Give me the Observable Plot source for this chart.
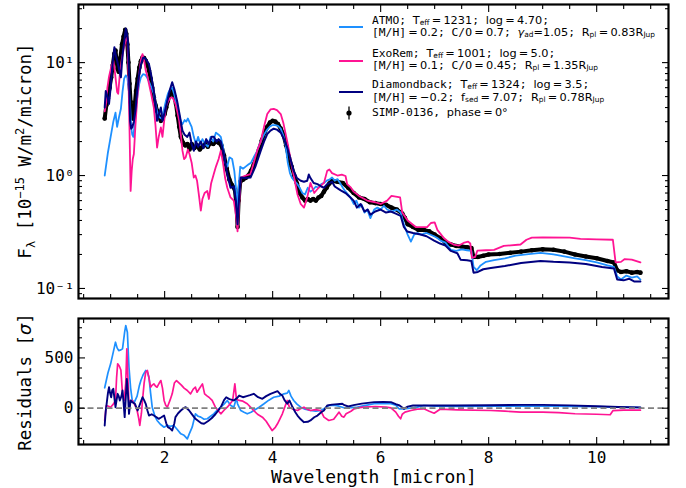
<!DOCTYPE html>
<html><head><meta charset="utf-8">
<script src="https://cdn.jsdelivr.net/npm/d3@7"></script>
<script src="https://cdn.jsdelivr.net/npm/@observablehq/plot@0.6"></script>
<style>
html,body{margin:0;padding:0;background:#fff;}
#wrap{position:relative;width:686px;height:488px;overflow:hidden;font-family:'DejaVu Sans Mono',monospace;background:#fff;}
#wrap svg{display:block;}
.row{position:absolute;left:372px;white-space:nowrap;font-size:11.3px;line-height:12.6px;color:#000;}
.m{font-family:'DejaVu Sans',sans-serif;}
.row sub{font-size:0.66em;vertical-align:-0.2em;line-height:0;}
.sw{position:absolute;left:339px;width:24px;height:0;border-top:2px solid;}
</style></head>
<body>
<div id="wrap"></div>
<script>
// ---------- data (wavelength in micron, flux in 1e-15 W/m2/micron) ----------
const observed = [[0.89,3.2],[0.92,4.2],[0.95,4.8],[0.98,6.0],[1.01,7.4],[1.04,9.5],[1.07,12.0],[1.09,12.8],[1.11,10.4],[1.13,8.8],[1.15,8.3],[1.18,11.0],[1.21,14.5],[1.24,17.0],[1.27,19.5],[1.29,18.0],[1.31,14.5],[1.33,10.0],[1.35,6.5],[1.37,4.5],[1.39,3.5],[1.41,3.2],[1.43,3.6],[1.45,4.4],[1.47,5.6],[1.50,7.2],[1.53,9.0],[1.56,10.3],[1.59,11.1],[1.62,11.0],[1.65,10.4],[1.68,9.6],[1.71,8.5],[1.74,7.2],[1.77,6.0],[1.80,4.9],[1.83,4.2],[1.86,3.75],[1.90,3.3],[1.93,3.05],[1.96,3.2],[2.00,3.5],[2.03,4.0],[2.06,4.6],[2.09,5.1],[2.12,5.5],[2.15,5.6],[2.18,5.0],[2.21,4.3],[2.24,3.4],[2.27,2.7],[2.30,2.2],[2.34,1.95],[2.38,1.85],[2.42,1.9],[2.46,1.7],[2.50,1.9],[2.55,1.75],[2.60,1.85],[2.65,1.7],[2.70,1.8],[2.75,1.9],[2.80,1.8],[2.85,1.95],[2.90,1.9],[2.95,2.0],[3.00,1.95],[3.05,1.85],[3.10,1.5],[3.15,1.15],[3.20,0.92],[3.25,0.82],[3.30,0.75],[3.33,0.55],[3.35,0.35],[3.37,0.6],[3.40,0.88],[3.45,0.92],[3.50,0.95],[3.55,1.0],[3.60,1.1],[3.65,1.25],[3.70,1.45],[3.75,1.7],[3.80,2.05],[3.85,2.4],[3.90,2.7],[3.95,2.95],[4.00,3.05],[4.05,3.0],[4.10,2.85],[4.15,2.6],[4.20,2.3],[4.25,1.85],[4.30,1.45],[4.35,1.2],[4.40,1.0],[4.45,0.85],[4.50,0.7],[4.55,0.64],[4.60,0.6],[4.65,0.62],[4.70,0.6],[4.75,0.62],[4.80,0.6],[4.85,0.64],[4.90,0.66],[4.95,0.72],[5.00,0.78],[5.05,0.85],[5.10,0.9],[5.20,0.88],[5.30,0.86],[5.40,0.78],[5.50,0.7],[5.60,0.64],[5.70,0.62],[5.80,0.58],[5.90,0.57],[6.00,0.56],[6.10,0.55],[6.20,0.52],[6.30,0.5],[6.40,0.46],[6.45,0.42],[6.50,0.37],[6.60,0.35],[6.70,0.33],[6.80,0.33],[6.90,0.32],[7.00,0.30],[7.10,0.28],[7.20,0.255],[7.30,0.245],[7.40,0.238],[7.50,0.235],[7.60,0.232],[7.68,0.228],[7.72,0.19],[7.80,0.19],[7.90,0.195],[8.00,0.2],[8.20,0.202],[8.40,0.207],[8.60,0.212],[8.80,0.218],[9.00,0.222],[9.20,0.22],[9.40,0.212],[9.60,0.2],[9.80,0.192],[10.0,0.185],[10.2,0.175],[10.32,0.17],[10.38,0.145],[10.45,0.14],[10.55,0.142],[10.65,0.138],[10.75,0.14],[10.81,0.138]];

const atmo = [[0.89,1.0],[0.95,1.6],[1.00,2.2],[1.05,3.0],[1.09,3.6],[1.12,2.7],[1.15,3.2],[1.19,3.9],[1.22,5.5],[1.25,7.2],[1.28,7.7],[1.31,7.4],[1.34,5.5],[1.36,4.2],[1.38,2.7],[1.40,2.3],[1.42,2.2],[1.45,3.0],[1.49,4.8],[1.53,6.5],[1.56,7.4],[1.60,7.9],[1.64,7.8],[1.68,7.3],[1.71,6.8],[1.75,6.1],[1.80,5.3],[1.83,4.4],[1.86,3.7],[1.90,3.3],[1.94,3.2],[1.98,3.7],[2.02,4.5],[2.06,5.3],[2.10,5.8],[2.14,6.0],[2.18,5.2],[2.22,4.3],[2.26,3.6],[2.30,3.0],[2.33,2.85],[2.37,3.1],[2.40,3.0],[2.43,3.2],[2.47,2.9],[2.50,2.7],[2.54,2.2],[2.58,1.9],[2.62,2.2],[2.66,1.9],[2.70,2.1],[2.75,1.9],[2.80,1.8],[2.85,2.2],[2.90,2.0],[2.95,2.4],[3.00,2.3],[3.04,2.2],[3.08,1.8],[3.12,1.3],[3.16,1.2],[3.20,1.45],[3.25,1.4],[3.29,1.1],[3.33,0.7],[3.35,0.45],[3.37,0.8],[3.40,1.2],[3.45,1.15],[3.50,1.2],[3.55,1.25],[3.60,1.3],[3.65,1.45],[3.70,1.6],[3.75,1.85],[3.80,2.1],[3.85,2.35],[3.90,2.55],[3.95,2.72],[4.00,2.8],[4.05,2.8],[4.10,2.75],[4.15,2.6],[4.20,2.25],[4.24,1.85],[4.28,1.3],[4.32,1.05],[4.36,0.95],[4.40,0.9],[4.45,0.85],[4.50,0.78],[4.55,0.7],[4.60,0.68],[4.65,0.78],[4.70,0.72],[4.75,0.75],[4.80,0.8],[4.85,0.78],[4.90,0.84],[4.95,0.86],[5.00,0.9],[5.05,0.92],[5.10,0.96],[5.15,0.9],[5.20,0.93],[5.26,0.84],[5.30,0.78],[5.35,0.72],[5.44,0.64],[5.50,0.56],[5.55,0.6],[5.60,0.52],[5.65,0.55],[5.70,0.47],[5.75,0.5],[5.81,0.42],[5.88,0.5],[5.94,0.52],[6.00,0.5],[6.06,0.54],[6.12,0.5],[6.20,0.48],[6.30,0.5],[6.37,0.47],[6.43,0.37],[6.50,0.3],[6.56,0.26],[6.62,0.3],[6.68,0.31],[6.75,0.3],[6.85,0.31],[6.99,0.29],[7.05,0.28],[7.11,0.265],[7.20,0.255],[7.30,0.22],[7.40,0.215],[7.50,0.222],[7.60,0.218],[7.68,0.215],[7.72,0.155],[7.78,0.145],[7.85,0.16],[7.95,0.172],[8.10,0.178],[8.30,0.185],[8.50,0.195],[8.70,0.2],[8.96,0.207],[9.20,0.2],[9.40,0.192],[9.60,0.185],[9.80,0.178],[10.0,0.17],[10.2,0.16],[10.32,0.155],[10.38,0.128],[10.45,0.12],[10.55,0.13],[10.65,0.125],[10.75,0.128],[10.81,0.12]];

const exorem = [[0.89,3.7],[0.92,4.5],[0.94,6.0],[0.97,7.5],[1.01,9.1],[1.05,10.4],[1.07,9.0],[1.09,7.4],[1.12,5.5],[1.14,5.3],[1.17,7.9],[1.21,11.0],[1.25,13.7],[1.28,16.0],[1.31,16.8],[1.33,7.4],[1.35,2.5],[1.37,0.73],[1.39,1.1],[1.41,1.4],[1.43,1.55],[1.46,2.8],[1.49,4.6],[1.53,8.0],[1.56,10.5],[1.59,11.9],[1.62,10.5],[1.65,8.5],[1.68,7.6],[1.71,6.5],[1.75,5.3],[1.80,4.0],[1.83,2.8],[1.86,1.77],[1.89,2.2],[1.93,2.67],[1.96,2.2],[1.99,3.0],[2.02,4.0],[2.06,4.5],[2.11,4.9],[2.15,4.9],[2.20,4.3],[2.24,3.6],[2.27,3.05],[2.30,2.3],[2.33,1.66],[2.36,1.4],[2.39,1.45],[2.43,1.7],[2.46,1.55],[2.50,1.3],[2.54,0.96],[2.57,1.0],[2.60,0.9],[2.63,0.7],[2.67,0.49],[2.70,0.62],[2.74,0.7],[2.79,0.73],[2.82,0.62],[2.86,0.85],[2.91,1.03],[2.95,1.2],[3.00,1.4],[3.04,1.66],[3.08,1.3],[3.12,0.95],[3.16,0.78],[3.22,0.64],[3.28,0.6],[3.32,0.45],[3.35,0.32],[3.38,0.55],[3.41,0.96],[3.50,1.0],[3.59,1.03],[3.65,1.3],[3.72,1.7],[3.78,2.0],[3.84,2.7],[3.90,3.5],[3.96,3.85],[4.02,3.9],[4.08,3.8],[4.15,3.5],[4.20,2.9],[4.27,2.0],[4.32,1.5],[4.36,1.18],[4.41,0.9],[4.46,0.68],[4.52,0.56],[4.58,0.52],[4.64,0.64],[4.70,0.86],[4.77,0.7],[4.85,0.78],[4.95,0.86],[5.01,1.1],[5.05,1.13],[5.10,1.05],[5.20,1.0],[5.28,1.02],[5.35,0.99],[5.38,0.84],[5.45,0.78],[5.50,0.72],[5.60,0.66],[5.75,0.6],[5.90,0.58],[6.00,0.56],[6.12,0.6],[6.20,0.66],[6.28,0.65],[6.36,0.64],[6.40,0.47],[6.50,0.4],[6.65,0.35],[6.80,0.35],[6.86,0.35],[6.93,0.38],[7.00,0.385],[7.05,0.33],[7.12,0.3],[7.17,0.28],[7.25,0.26],[7.35,0.245],[7.45,0.24],[7.55,0.255],[7.62,0.26],[7.66,0.25],[7.69,0.187],[7.75,0.19],[7.79,0.216],[7.95,0.218],[8.10,0.22],[8.28,0.238],[8.59,0.245],[8.70,0.27],[8.80,0.282],[9.00,0.283],[9.50,0.282],[9.70,0.275],[10.0,0.272],[10.30,0.27],[10.35,0.17],[10.45,0.172],[10.52,0.182],[10.65,0.18],[10.81,0.17]];

const diamondback = [[0.89,4.0],[0.91,5.6],[0.94,5.0],[0.97,4.3],[1.00,6.0],[1.03,9.1],[1.07,13.7],[1.09,12.0],[1.12,10.4],[1.15,9.0],[1.19,7.4],[1.21,10.0],[1.23,12.8],[1.26,16.5],[1.28,20.0],[1.30,18.0],[1.32,15.6],[1.34,8.0],[1.36,3.05],[1.38,2.6],[1.40,2.67],[1.43,3.0],[1.46,3.75],[1.49,5.5],[1.52,7.4],[1.56,9.5],[1.60,11.0],[1.62,11.1],[1.66,10.6],[1.71,9.7],[1.75,7.8],[1.80,5.6],[1.83,4.3],[1.86,3.05],[1.90,3.6],[1.93,4.0],[1.96,3.05],[2.00,3.6],[2.05,4.6],[2.10,5.8],[2.14,6.7],[2.18,5.8],[2.23,4.6],[2.28,3.4],[2.33,2.5],[2.37,2.3],[2.42,2.2],[2.46,2.4],[2.50,1.9],[2.54,1.66],[2.58,2.0],[2.62,1.8],[2.67,2.0],[2.72,1.75],[2.77,2.1],[2.82,1.9],[2.87,2.2],[2.91,2.2],[2.96,2.0],[3.00,2.1],[3.04,2.0],[3.09,1.6],[3.16,1.03],[3.22,0.78],[3.28,0.8],[3.32,0.6],[3.35,0.37],[3.38,0.65],[3.41,0.96],[3.50,0.95],[3.59,0.96],[3.68,1.2],[3.78,1.66],[3.84,2.0],[3.90,2.33],[3.96,2.5],[4.02,2.6],[4.08,2.55],[4.15,2.4],[4.21,2.1],[4.27,1.77],[4.33,1.4],[4.39,1.1],[4.45,0.95],[4.52,0.9],[4.58,0.88],[4.64,0.9],[4.67,1.02],[4.70,0.95],[4.76,0.86],[4.83,0.84],[4.90,0.8],[4.95,0.78],[5.01,0.84],[5.10,0.88],[5.15,0.8],[5.26,0.74],[5.35,0.7],[5.44,0.64],[5.50,0.6],[5.56,0.52],[5.63,0.56],[5.70,0.48],[5.76,0.5],[5.81,0.45],[5.90,0.48],[6.00,0.5],[6.10,0.47],[6.19,0.48],[6.28,0.46],[6.37,0.44],[6.43,0.35],[6.49,0.32],[6.60,0.31],[6.74,0.3],[6.85,0.29],[6.99,0.265],[7.10,0.25],[7.20,0.24],[7.30,0.215],[7.42,0.205],[7.48,0.18],[7.60,0.178],[7.68,0.175],[7.72,0.138],[7.80,0.14],[7.90,0.148],[8.04,0.152],[8.30,0.158],[8.60,0.168],[8.96,0.175],[9.20,0.172],[9.50,0.17],[9.80,0.165],[10.1,0.155],[10.32,0.15],[10.38,0.12],[10.50,0.118],[10.60,0.122],[10.70,0.115],[10.81,0.115]];

// residuals in sigma
const resAtmo = [[0.89,203],[0.95,350],[1.00,441],[1.05,560],[1.09,656],[1.12,600],[1.15,573],[1.19,580],[1.22,590],[1.26,760],[1.28,822],[1.31,755],[1.34,407],[1.37,200],[1.40,77],[1.44,60],[1.49,120],[1.53,220],[1.56,275],[1.60,330],[1.65,375],[1.68,360],[1.71,308],[1.74,150],[1.77,10],[1.82,-80],[1.86,-122],[1.92,-160],[1.99,-189],[2.05,-170],[2.10,-180],[2.17,-172],[2.23,-210],[2.30,-255],[2.36,-270],[2.42,-305],[2.46,-250],[2.51,-189],[2.57,-56],[2.62,-80],[2.67,-89],[2.73,-110],[2.79,-105],[2.85,-80],[2.91,-56],[2.97,-20],[3.04,10],[3.10,40],[3.16,77],[3.22,30],[3.28,10],[3.33,100],[3.35,44],[3.41,-23],[3.47,-40],[3.53,-56],[3.60,-40],[3.65,-23],[3.75,10],[3.84,44],[3.93,80],[4.02,109],[4.12,120],[4.21,143],[4.27,150],[4.30,176],[4.34,120],[4.39,77],[4.45,40],[4.52,10],[4.60,-10],[4.70,-23],[4.80,-30],[4.89,-23],[4.95,-6],[5.04,27],[5.13,30],[5.23,20],[5.32,4],[5.45,5],[5.57,10],[5.70,25],[5.88,44],[6.05,45],[6.19,44],[6.28,30],[6.34,-6],[6.43,-6],[6.55,0],[6.68,10],[6.80,27],[7.0,20],[7.42,17],[8.0,20],[8.6,20],[9.0,22],[9.5,18],[10.0,15],[10.4,10],[10.81,5]];

const resExorem = [[0.89,-122],[0.92,27],[0.96,20],[1.00,10],[1.05,40],[1.09,77],[1.11,300],[1.13,441],[1.16,420],[1.19,380],[1.22,143],[1.25,77],[1.28,250],[1.30,590],[1.32,300],[1.34,44],[1.37,60],[1.40,77],[1.45,30],[1.49,-23],[1.52,-100],[1.54,-172],[1.57,-50],[1.59,77],[1.62,250],[1.65,358],[1.68,375],[1.71,300],[1.74,209],[1.77,230],[1.80,242],[1.83,220],[1.86,209],[1.90,250],[1.93,275],[1.96,200],[1.99,77],[2.02,30],[2.05,10],[2.10,80],[2.14,143],[2.18,250],[2.22,275],[2.27,250],[2.31,230],[2.36,200],[2.42,176],[2.48,143],[2.53,190],[2.57,209],[2.60,159],[2.65,200],[2.70,242],[2.74,143],[2.79,120],[2.82,109],[2.88,77],[2.94,10],[3.0,-30],[3.04,-56],[3.10,-20],[3.16,10],[3.22,50],[3.26,77],[3.30,242],[3.33,90],[3.38,77],[3.45,70],[3.53,44],[3.59,10],[3.65,-23],[3.72,-60],[3.81,-89],[3.88,-130],[3.93,-172],[3.99,-222],[4.05,-190],[4.09,-155],[4.14,-100],[4.18,-56],[4.23,20],[4.27,77],[4.31,10],[4.38,-10],[4.46,-23],[4.53,0],[4.58,10],[4.64,-10],[4.70,-23],[4.79,-15],[4.89,-23],[4.95,-89],[5.04,-122],[5.13,-110],[5.20,-60],[5.23,-39],[5.28,-80],[5.32,-89],[5.36,-56],[5.45,-30],[5.51,-6],[5.6,5],[5.69,10],[5.9,17],[6.1,10],[6.19,4],[6.28,-39],[6.33,-80],[6.37,-105],[6.40,-60],[6.45,-39],[6.56,-23],[6.68,-10],[6.80,-6],[6.90,-30],[6.99,-50],[7.1,-10],[7.42,-16],[8.04,-23],[8.3,-30],[8.59,-39],[9.0,-40],[9.3,-45],[9.6,-55],[10.0,-60],[10.25,-65],[10.30,-25],[10.5,-20],[10.81,-20]];

const resDiamondback = [[0.89,-172],[0.91,-23],[0.93,60],[0.95,150],[0.97,209],[0.99,150],[1.01,109],[1.03,180],[1.05,193],[1.07,100],[1.09,10],[1.11,80],[1.13,143],[1.15,120],[1.17,77],[1.20,120],[1.22,176],[1.24,50],[1.26,-89],[1.28,100],[1.30,292],[1.32,150],[1.34,-56],[1.37,77],[1.40,60],[1.45,44],[1.50,-23],[1.55,50],[1.59,109],[1.62,80],[1.65,44],[1.68,-20],[1.71,-73],[1.76,-60],[1.80,-73],[1.85,-90],[1.89,-106],[1.94,-90],[1.99,-73],[2.03,-150],[2.06,-189],[2.10,-200],[2.14,-222],[2.18,-150],[2.20,-89],[2.25,-50],[2.30,-23],[2.35,0],[2.39,10],[2.45,-20],[2.50,-56],[2.57,-106],[2.63,-130],[2.68,-150],[2.73,-155],[2.80,-130],[2.87,-100],[2.94,-60],[3.04,10],[3.10,80],[3.14,109],[3.20,90],[3.28,77],[3.34,100],[3.38,126],[3.45,109],[3.52,120],[3.58,130],[3.65,143],[3.73,110],[3.81,93],[3.88,120],[3.96,143],[4.02,155],[4.09,169],[4.14,140],[4.18,126],[4.22,80],[4.27,44],[4.31,77],[4.36,20],[4.42,-40],[4.46,-73],[4.52,-110],[4.58,-139],[4.65,-135],[4.70,-122],[4.77,-90],[4.83,-73],[4.90,-40],[4.95,-23],[5.01,27],[5.10,35],[5.20,40],[5.29,44],[5.33,30],[5.40,17],[5.50,30],[5.65,45],[5.88,60],[6.05,62],[6.19,60],[6.28,40],[6.35,27],[6.43,-6],[6.50,15],[6.60,27],[6.80,27],[7.4,27],[8.0,30],[8.6,33],[9.0,33],[9.5,28],[10.0,20],[10.4,12],[10.81,8]];

// ticks
const xMajorTicks = [2, 4, 6, 8, 10];
const xMinorTicks = [0.5,1,1.5,2.5,3,3.5,4.5,5,5.5,6.5,7,7.5,8.5,9,9.5,10.5,11];
const fluxMajorTicks = [0.1, 1, 10];
const fluxMinorTicks = [0.09,0.2,0.3,0.4,0.5,0.6,0.7,0.8,0.9,2,3,4,5,6,7,8,9,20,30];
const fluxTickLabels = {0.1: "10\u207B\u00B9", 1: "10\u2070", 10: "10\u00B9"};
const resMajorTicks = [0, 500];
const resMinorTicks = [-300,-200,-100,100,200,300,400,600,700,800];

const colors = {atmo: "#1E90FF", exorem: "#FF1493", diamondback: "#000080"};
const rows = a => a.map(([w, v]) => ({w, v}));

const xDomain = [0.405, 11.33];
const font = "'DejaVu Sans Mono', monospace";

function tickMarks(xMaj, xMin, yMaj, yMin) {
  const s = {stroke: "black", strokeWidth: 1.1, label: null, fill: "none"};
  return [
    Plot.axisX(xMaj, {...s, anchor: "bottom", tickSize: 7, dy: -7}),
    Plot.axisX(xMin, {...s, anchor: "bottom", tickSize: 4, dy: -4}),
    Plot.axisX(xMaj, {...s, anchor: "top", tickSize: 7, dy: 7}),
    Plot.axisX(xMin, {...s, anchor: "top", tickSize: 4, dy: 4}),
    Plot.axisY(yMaj, {...s, anchor: "left", tickSize: 7, dx: 7}),
    Plot.axisY(yMin, {...s, anchor: "left", tickSize: 4, dx: 4}),
    Plot.axisY(yMaj, {...s, anchor: "right", tickSize: 7, dx: -7}),
    Plot.axisY(yMin, {...s, anchor: "right", tickSize: 4, dx: -4})
  ];
}

const topPlot = Plot.plot({
  width: 686, height: 300,
  marginLeft: 78, marginRight: 18, marginTop: 4, marginBottom: 2,
  x: {domain: xDomain},
  y: {type: "log", domain: [0.0815, 32.7]},
  style: {fontFamily: font, fontSize: "16px", color: "black", background: "white", overflow: "visible"},
  marks: [
    Plot.line(rows(observed), {x: "w", y: "v", stroke: "black", strokeWidth: 4}),
    Plot.dot(rows(observed), {x: "w", y: "v", r: 2.3, fill: "black", stroke: "none"}),
    Plot.line(rows(atmo), {x: "w", y: "v", stroke: colors.atmo, strokeWidth: 1.8}),
    Plot.line(rows(exorem), {x: "w", y: "v", stroke: colors.exorem, strokeWidth: 1.8}),
    Plot.line(rows(diamondback), {x: "w", y: "v", stroke: colors.diamondback, strokeWidth: 2}),
    ...tickMarks(xMajorTicks, xMinorTicks, fluxMajorTicks, fluxMinorTicks),
    Plot.axisY(fluxMajorTicks, {anchor: "left", tickSize: 0, tickPadding: 4, label: null, tickFormat: d => fluxTickLabels[d], fill: "black"}),
    Plot.frame({stroke: "black", strokeWidth: 2.2})
  ]
});

const bottomPlot = Plot.plot({
  width: 686, height: 188,
  marginLeft: 78, marginRight: 18, marginTop: 18, marginBottom: 44,
  x: {domain: xDomain},
  y: {domain: [-361, 892]},
  style: {fontFamily: font, fontSize: "16px", color: "black", background: "white", overflow: "visible"},
  marks: [
    Plot.line(rows(resAtmo), {x: "w", y: "v", stroke: colors.atmo, strokeWidth: 1.7}),
    Plot.line(rows(resExorem), {x: "w", y: "v", stroke: colors.exorem, strokeWidth: 1.7}),
    Plot.line(rows(resDiamondback), {x: "w", y: "v", stroke: colors.diamondback, strokeWidth: 1.9}),
    Plot.ruleY([0], {stroke: "#808080", strokeWidth: 1.8, strokeDasharray: "6,3.5"}),
    ...tickMarks(xMajorTicks, xMinorTicks, resMajorTicks, resMinorTicks),
    Plot.axisX(xMajorTicks, {anchor: "bottom", tickSize: 0, tickPadding: 0, dy: 7, label: null, fill: "black"}),
    Plot.axisY(resMajorTicks, {anchor: "left", tickSize: 0, tickPadding: 5, label: null, fill: "black"}),
    Plot.frame({stroke: "black", strokeWidth: 2.2})
  ]
});

const wrap = document.getElementById("wrap");
wrap.appendChild(topPlot);
wrap.appendChild(bottomPlot);

// axis titles
const t1 = d3.select(topPlot).append("text")
  .attr("transform", "translate(31,151) rotate(-90)")
  .attr("text-anchor", "middle")
  .attr("font-family", font).attr("font-size", 17.5).attr("fill", "black");
t1.append("tspan").text("F");
t1.append("tspan").attr("font-size", 12).attr("dy", 4).text("\u03BB");
t1.append("tspan").attr("dy", -4).text(" [10");
t1.append("tspan").attr("font-size", 12).attr("dy", -7).text("\u221215");
t1.append("tspan").attr("dy", 7).text(" W/m");
t1.append("tspan").attr("font-size", 12).attr("dy", -7).text("2");
t1.append("tspan").attr("dy", 7).text("/micron]");

const t2 = d3.select(bottomPlot).append("text")
  .attr("transform", "translate(31,82) rotate(-90)")
  .attr("text-anchor", "middle")
  .attr("font-family", font).attr("font-size", 17.5).attr("fill", "black");
t2.append("tspan").text("Residuals [");
t2.append("tspan").attr("font-style", "italic").attr("font-family", "'DejaVu Sans', sans-serif").text("\u03C3");
t2.append("tspan").text("]");

d3.select(bottomPlot).append("text")
  .attr("x", 374).attr("y", 183)
  .attr("text-anchor", "middle")
  .attr("font-family", font).attr("font-size", 18).attr("fill", "black")
  .text("Wavelength [micron]");

// legend
const legendEntries = [
  {color: colors.atmo, y: 27, top: 14.5, html: 'ATMO; <span class="m">T<sub>eff</sub>&thinsp;=&thinsp;1231</span>; <span class="m">log&thinsp;=&thinsp;4.70</span>;<br>[M/H]<span class="m">&thinsp;=&thinsp;0.2</span>; C/O<span class="m">&thinsp;=&thinsp;0.7</span>; <span class="m"><i>&gamma;</i><sub>ad</sub>=1.05</span>; <span class="m">R<sub>pl</sub>&thinsp;=&thinsp;0.83R<sub>Jup</sub></span>'},
  {color: colors.exorem, y: 61, top: 47.5, html: 'ExoRem; <span class="m">T<sub>eff</sub>&thinsp;=&thinsp;1001</span>; <span class="m">log&thinsp;=&thinsp;5.0</span>;<br>[M/H]<span class="m">&thinsp;=&thinsp;0.1</span>; C/O<span class="m">&thinsp;=&thinsp;0.45</span>; <span class="m">R<sub>pl</sub>&thinsp;=&thinsp;1.35R<sub>Jup</sub></span>'},
  {color: colors.diamondback, y: 92, top: 79, html: 'Diamondback; <span class="m">T<sub>eff</sub>&thinsp;=&thinsp;1324</span>; <span class="m">log&thinsp;=&thinsp;3.5</span>;<br>[M/H]<span class="m">&thinsp;=&thinsp;&minus;0.2</span>; <span class="m">f<sub>sed</sub>&thinsp;=&thinsp;7.07</span>; <span class="m">R<sub>pl</sub>&thinsp;=&thinsp;0.78R<sub>Jup</sub></span>'}
];
for (const e of legendEntries) {
  const sw = document.createElement("div");
  sw.className = "sw"; sw.style.top = (e.y - 1) + "px"; sw.style.borderTopColor = e.color;
  wrap.appendChild(sw);
  const r = document.createElement("div");
  r.className = "row"; r.style.top = e.top + "px"; r.innerHTML = e.html;
  wrap.appendChild(r);
}
const simpRow = document.createElement("div");
simpRow.className = "row"; simpRow.style.top = "106.5px";
simpRow.innerHTML = 'SIMP-0136, <span class="m">phase&thinsp;=&thinsp;0&deg;</span>';
wrap.appendChild(simpRow);
const mk = d3.select(topPlot).append("g");
mk.append("line").attr("x1", 349).attr("x2", 349).attr("y1", 106.5).attr("y2", 119.5).attr("stroke", "black").attr("stroke-width", 1.3);
mk.append("circle").attr("cx", 349).attr("cy", 113).attr("r", 2.6).attr("fill", "black");
</script>
</body></html>
